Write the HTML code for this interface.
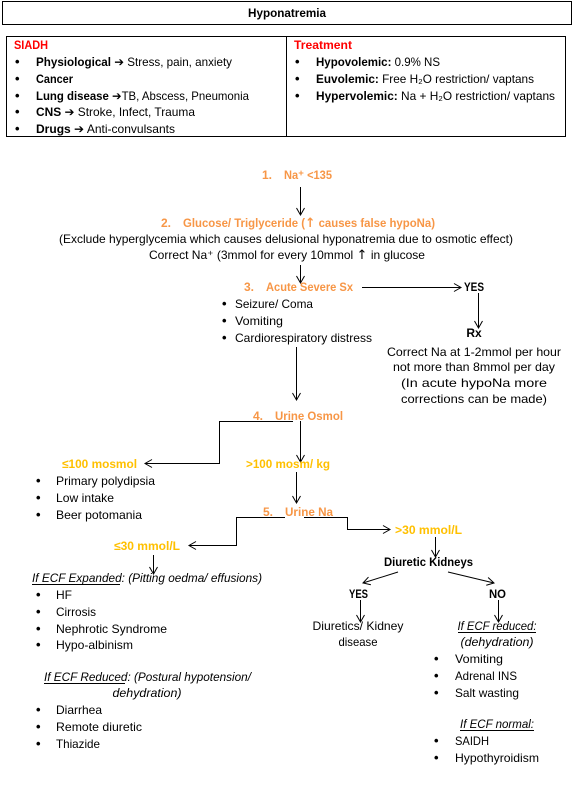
<!DOCTYPE html>
<html><head><meta charset="utf-8"><style>
html,body{margin:0;padding:0;background:#fff;}
svg{display:block;}
text{font-family:"Liberation Sans",sans-serif;font-size:12px;fill:#000;}
.o{fill:#F79646;font-weight:bold;}
.y{fill:#FFC000;font-weight:bold;}
.r{fill:#FF0000;font-weight:bold;}
.b{font-weight:bold;}
.i{font-style:italic;}
.ar{font-family:"DejaVu Sans",sans-serif;font-weight:bold;}
.up{font-family:"DejaVu Sans",sans-serif;font-size:13px;}
.bl{font-size:13px;font-weight:bold;}
line,polyline{stroke:#000;stroke-width:1;fill:none;}
</style></head><body>
<svg width="574" height="793" viewBox="0 0 574 793" xmlns="http://www.w3.org/2000/svg">
<defs><marker id="a" markerWidth="10" markerHeight="10" refX="8" refY="5" orient="auto" markerUnits="userSpaceOnUse"><polyline points="1,1 8,5 1,9" style="stroke:#000;fill:none"/></marker></defs>
<rect x="2.5" y="1.5" width="569" height="23" fill="none" stroke="#000"/>
<text x="287" y="17" text-anchor="middle" class="b" textLength="78" lengthAdjust="spacingAndGlyphs">Hyponatremia</text>
<rect x="6.5" y="36.5" width="559" height="100" fill="none" stroke="#000"/>
<line x1="286.5" y1="37" x2="286.5" y2="136"/>
<text x="14" y="49" class="r" textLength="34" lengthAdjust="spacingAndGlyphs">SIADH</text>
<g>
<text x="15" y="66" class="bl">•</text><text x="36" y="66" textLength="196" lengthAdjust="spacingAndGlyphs"><tspan class="b">Physiological</tspan> <tspan class="ar">➔</tspan> Stress, pain, anxiety</text>
<text x="15" y="83" class="bl">•</text><text x="36" y="83" class="b" textLength="37" lengthAdjust="spacingAndGlyphs">Cancer</text>
<text x="15" y="100" class="bl">•</text><text x="36" y="100" textLength="213" lengthAdjust="spacingAndGlyphs"><tspan class="b">Lung disease</tspan> <tspan class="ar">➔</tspan>TB, Abscess, Pneumonia</text>
<text x="15" y="116" class="bl">•</text><text x="36" y="116" textLength="159" lengthAdjust="spacingAndGlyphs"><tspan class="b">CNS</tspan> <tspan class="ar">➔</tspan> Stroke, Infect, Trauma</text>
<text x="15" y="133" class="bl">•</text><text x="36" y="133" textLength="139" lengthAdjust="spacingAndGlyphs"><tspan class="b">Drugs</tspan> <tspan class="ar">➔</tspan> Anti-convulsants</text>
</g>
<text x="294" y="49" class="r" textLength="58" lengthAdjust="spacingAndGlyphs">Treatment</text>
<text x="295" y="66" class="bl">•</text><text x="316" y="66" textLength="124" lengthAdjust="spacingAndGlyphs"><tspan class="b">Hypovolemic:</tspan>  0.9% NS</text>
<text x="295" y="83" class="bl">•</text><text x="316" y="83" textLength="218" lengthAdjust="spacingAndGlyphs"><tspan class="b">Euvolemic:</tspan> Free H₂O restriction/ vaptans</text>
<text x="295" y="100" class="bl">•</text><text x="316" y="100" textLength="239" lengthAdjust="spacingAndGlyphs"><tspan class="b">Hypervolemic:</tspan> Na + H₂O restriction/ vaptans</text>

<text x="262" y="179" class="o">1.</text><text x="284" y="179" class="o" textLength="48" lengthAdjust="spacingAndGlyphs">Na⁺ &lt;135</text>
<line x1="300.5" y1="187" x2="300.5" y2="215" marker-end="url(#a)"/>
<text x="161" y="227" class="o">2.</text><text x="183" y="227" class="o" textLength="252" lengthAdjust="spacingAndGlyphs">Glucose/ Triglyceride (<tspan class="up">↑</tspan> causes false hypoNa)</text>
<text x="286" y="243" text-anchor="middle" textLength="454" lengthAdjust="spacingAndGlyphs">(Exclude hyperglycemia which causes delusional hyponatremia due to osmotic effect)</text>
<text x="287" y="259" text-anchor="middle" textLength="276" lengthAdjust="spacingAndGlyphs">Correct Na⁺ (3mmol for every 10mmol <tspan class="up">↑</tspan> in glucose</text>
<line x1="300.5" y1="265" x2="300.5" y2="283" marker-end="url(#a)"/>
<text x="244" y="291" class="o">3.</text><text x="266" y="291" class="o" textLength="87" lengthAdjust="spacingAndGlyphs">Acute Severe Sx</text>
<line x1="362" y1="287.5" x2="461" y2="287.5" marker-end="url(#a)"/>
<text x="464" y="291" class="b" textLength="20" lengthAdjust="spacingAndGlyphs">YES</text>
<line x1="478.5" y1="293" x2="478.5" y2="328" marker-end="url(#a)"/>
<text x="474" y="337" text-anchor="middle" class="b">Rx</text>
<text x="474" y="356" text-anchor="middle" textLength="174" lengthAdjust="spacingAndGlyphs">Correct Na at 1-2mmol per hour</text>
<text x="474" y="371" text-anchor="middle" textLength="162" lengthAdjust="spacingAndGlyphs">not more than 8mmol per day</text>
<text x="474" y="387" text-anchor="middle" textLength="146" lengthAdjust="spacingAndGlyphs">(In acute hypoNa more</text>
<text x="474" y="403" text-anchor="middle" textLength="146" lengthAdjust="spacingAndGlyphs">corrections can be made)</text>
<text x="222" y="308" class="bl">•</text><text x="235" y="308" textLength="78" lengthAdjust="spacingAndGlyphs">Seizure/ Coma</text>
<text x="222" y="325" class="bl">•</text><text x="235" y="325" textLength="48" lengthAdjust="spacingAndGlyphs">Vomiting</text>
<text x="222" y="342" class="bl">•</text><text x="235" y="342" textLength="137" lengthAdjust="spacingAndGlyphs">Cardiorespiratory distress</text>
<line x1="296.5" y1="347" x2="296.5" y2="400" marker-end="url(#a)"/>

<text x="253" y="420" class="o">4.</text><text x="275" y="420" class="o" textLength="68" lengthAdjust="spacingAndGlyphs">Urine Osmol</text>
<polyline points="293,421.5 219.5,421.5 219.5,463.5 145,463.5" marker-end="url(#a)"/>
<line x1="300.5" y1="421" x2="300.5" y2="462" marker-end="url(#a)"/>
<text x="62" y="468" class="y" textLength="75" lengthAdjust="spacingAndGlyphs">≤100 mosmol</text>
<text x="246" y="468" class="y" textLength="84" lengthAdjust="spacingAndGlyphs">&gt;100 mosm/ kg</text>
<text x="36" y="485" class="bl">•</text><text x="56" y="485" textLength="99" lengthAdjust="spacingAndGlyphs">Primary polydipsia</text>
<text x="36" y="502" class="bl">•</text><text x="56" y="502" textLength="58" lengthAdjust="spacingAndGlyphs">Low intake</text>
<text x="36" y="519" class="bl">•</text><text x="56" y="519" textLength="86" lengthAdjust="spacingAndGlyphs">Beer potomania</text>
<line x1="296.5" y1="472" x2="296.5" y2="503" marker-end="url(#a)"/>
<text x="263" y="516" class="o">5.</text><text x="285" y="516" class="o" textLength="48" lengthAdjust="spacingAndGlyphs">Urine Na</text>
<polyline points="285,517.5 236.5,517.5 236.5,545.5 189,545.5" marker-end="url(#a)"/>
<polyline points="304,517.5 347.5,517.5 347.5,529.5 390,529.5" marker-end="url(#a)"/>
<text x="395" y="534" class="y" textLength="67" lengthAdjust="spacingAndGlyphs">&gt;30 mmol/L</text>
<text x="114" y="550" class="y" textLength="66" lengthAdjust="spacingAndGlyphs">≤30 mmol/L</text>
<line x1="153.5" y1="555" x2="153.5" y2="574" marker-end="url(#a)"/>
<text x="32" y="582" class="i" textLength="230" lengthAdjust="spacingAndGlyphs">If ECF Expanded: (Pitting oedma/ effusions)</text>
<line x1="32" y1="584.5" x2="120" y2="584.5"/>
<text x="36" y="599" class="bl">•</text><text x="56" y="599">HF</text>
<text x="36" y="616" class="bl">•</text><text x="56" y="616" textLength="40" lengthAdjust="spacingAndGlyphs">Cirrosis</text>
<text x="36" y="633" class="bl">•</text><text x="56" y="633" textLength="111" lengthAdjust="spacingAndGlyphs">Nephrotic Syndrome</text>
<text x="36" y="649" class="bl">•</text><text x="56" y="649" textLength="77" lengthAdjust="spacingAndGlyphs">Hypo-albinism</text>
<text x="44" y="681" class="i" textLength="207" lengthAdjust="spacingAndGlyphs">If ECF Reduced: (Postural hypotension/</text>
<line x1="44" y1="683.5" x2="125" y2="683.5"/>
<text x="147" y="697" class="i" text-anchor="middle" textLength="69" lengthAdjust="spacingAndGlyphs">dehydration)</text>
<text x="36" y="714" class="bl">•</text><text x="56" y="714" textLength="46" lengthAdjust="spacingAndGlyphs">Diarrhea</text>
<text x="36" y="731" class="bl">•</text><text x="56" y="731" textLength="86" lengthAdjust="spacingAndGlyphs">Remote diuretic</text>
<text x="36" y="748" class="bl">•</text><text x="56" y="748" textLength="44" lengthAdjust="spacingAndGlyphs">Thiazide</text>

<line x1="435.5" y1="537" x2="435.5" y2="557" marker-end="url(#a)"/>
<text x="384" y="566" class="b" textLength="89" lengthAdjust="spacingAndGlyphs">Diuretic Kidneys</text>
<line x1="398" y1="572" x2="363" y2="583" marker-end="url(#a)"/>
<line x1="448" y1="572" x2="494" y2="583" marker-end="url(#a)"/>
<text x="349" y="598" class="b" textLength="19" lengthAdjust="spacingAndGlyphs">YES</text>
<text x="489" y="598" class="b" textLength="17" lengthAdjust="spacingAndGlyphs">NO</text>
<line x1="360.5" y1="600" x2="360.5" y2="622" marker-end="url(#a)"/>
<line x1="498.5" y1="600" x2="498.5" y2="622" marker-end="url(#a)"/>
<text x="358" y="630" text-anchor="middle" textLength="91" lengthAdjust="spacingAndGlyphs">Diuretics/ Kidney</text>
<text x="358" y="646" text-anchor="middle" textLength="39" lengthAdjust="spacingAndGlyphs">disease</text>
<text x="497" y="630" class="i" text-anchor="middle" textLength="79" lengthAdjust="spacingAndGlyphs">If ECF reduced:</text>
<line x1="458" y1="632.5" x2="536" y2="632.5"/>
<text x="497" y="646" class="i" text-anchor="middle" textLength="73" lengthAdjust="spacingAndGlyphs">(dehydration)</text>
<text x="434" y="663" class="bl">•</text><text x="455" y="663" textLength="48" lengthAdjust="spacingAndGlyphs">Vomiting</text>
<text x="434" y="680" class="bl">•</text><text x="455" y="680" textLength="62" lengthAdjust="spacingAndGlyphs">Adrenal INS</text>
<text x="434" y="697" class="bl">•</text><text x="455" y="697" textLength="64" lengthAdjust="spacingAndGlyphs">Salt wasting</text>
<text x="497" y="728" class="i" text-anchor="middle" textLength="74" lengthAdjust="spacingAndGlyphs">If ECF normal:</text>
<line x1="460" y1="730.5" x2="534" y2="730.5"/>
<text x="434" y="745" class="bl">•</text><text x="455" y="745" textLength="34" lengthAdjust="spacingAndGlyphs">SAIDH</text>
<text x="434" y="762" class="bl">•</text><text x="455" y="762" textLength="84" lengthAdjust="spacingAndGlyphs">Hypothyroidism</text>
</svg>
</body></html>
